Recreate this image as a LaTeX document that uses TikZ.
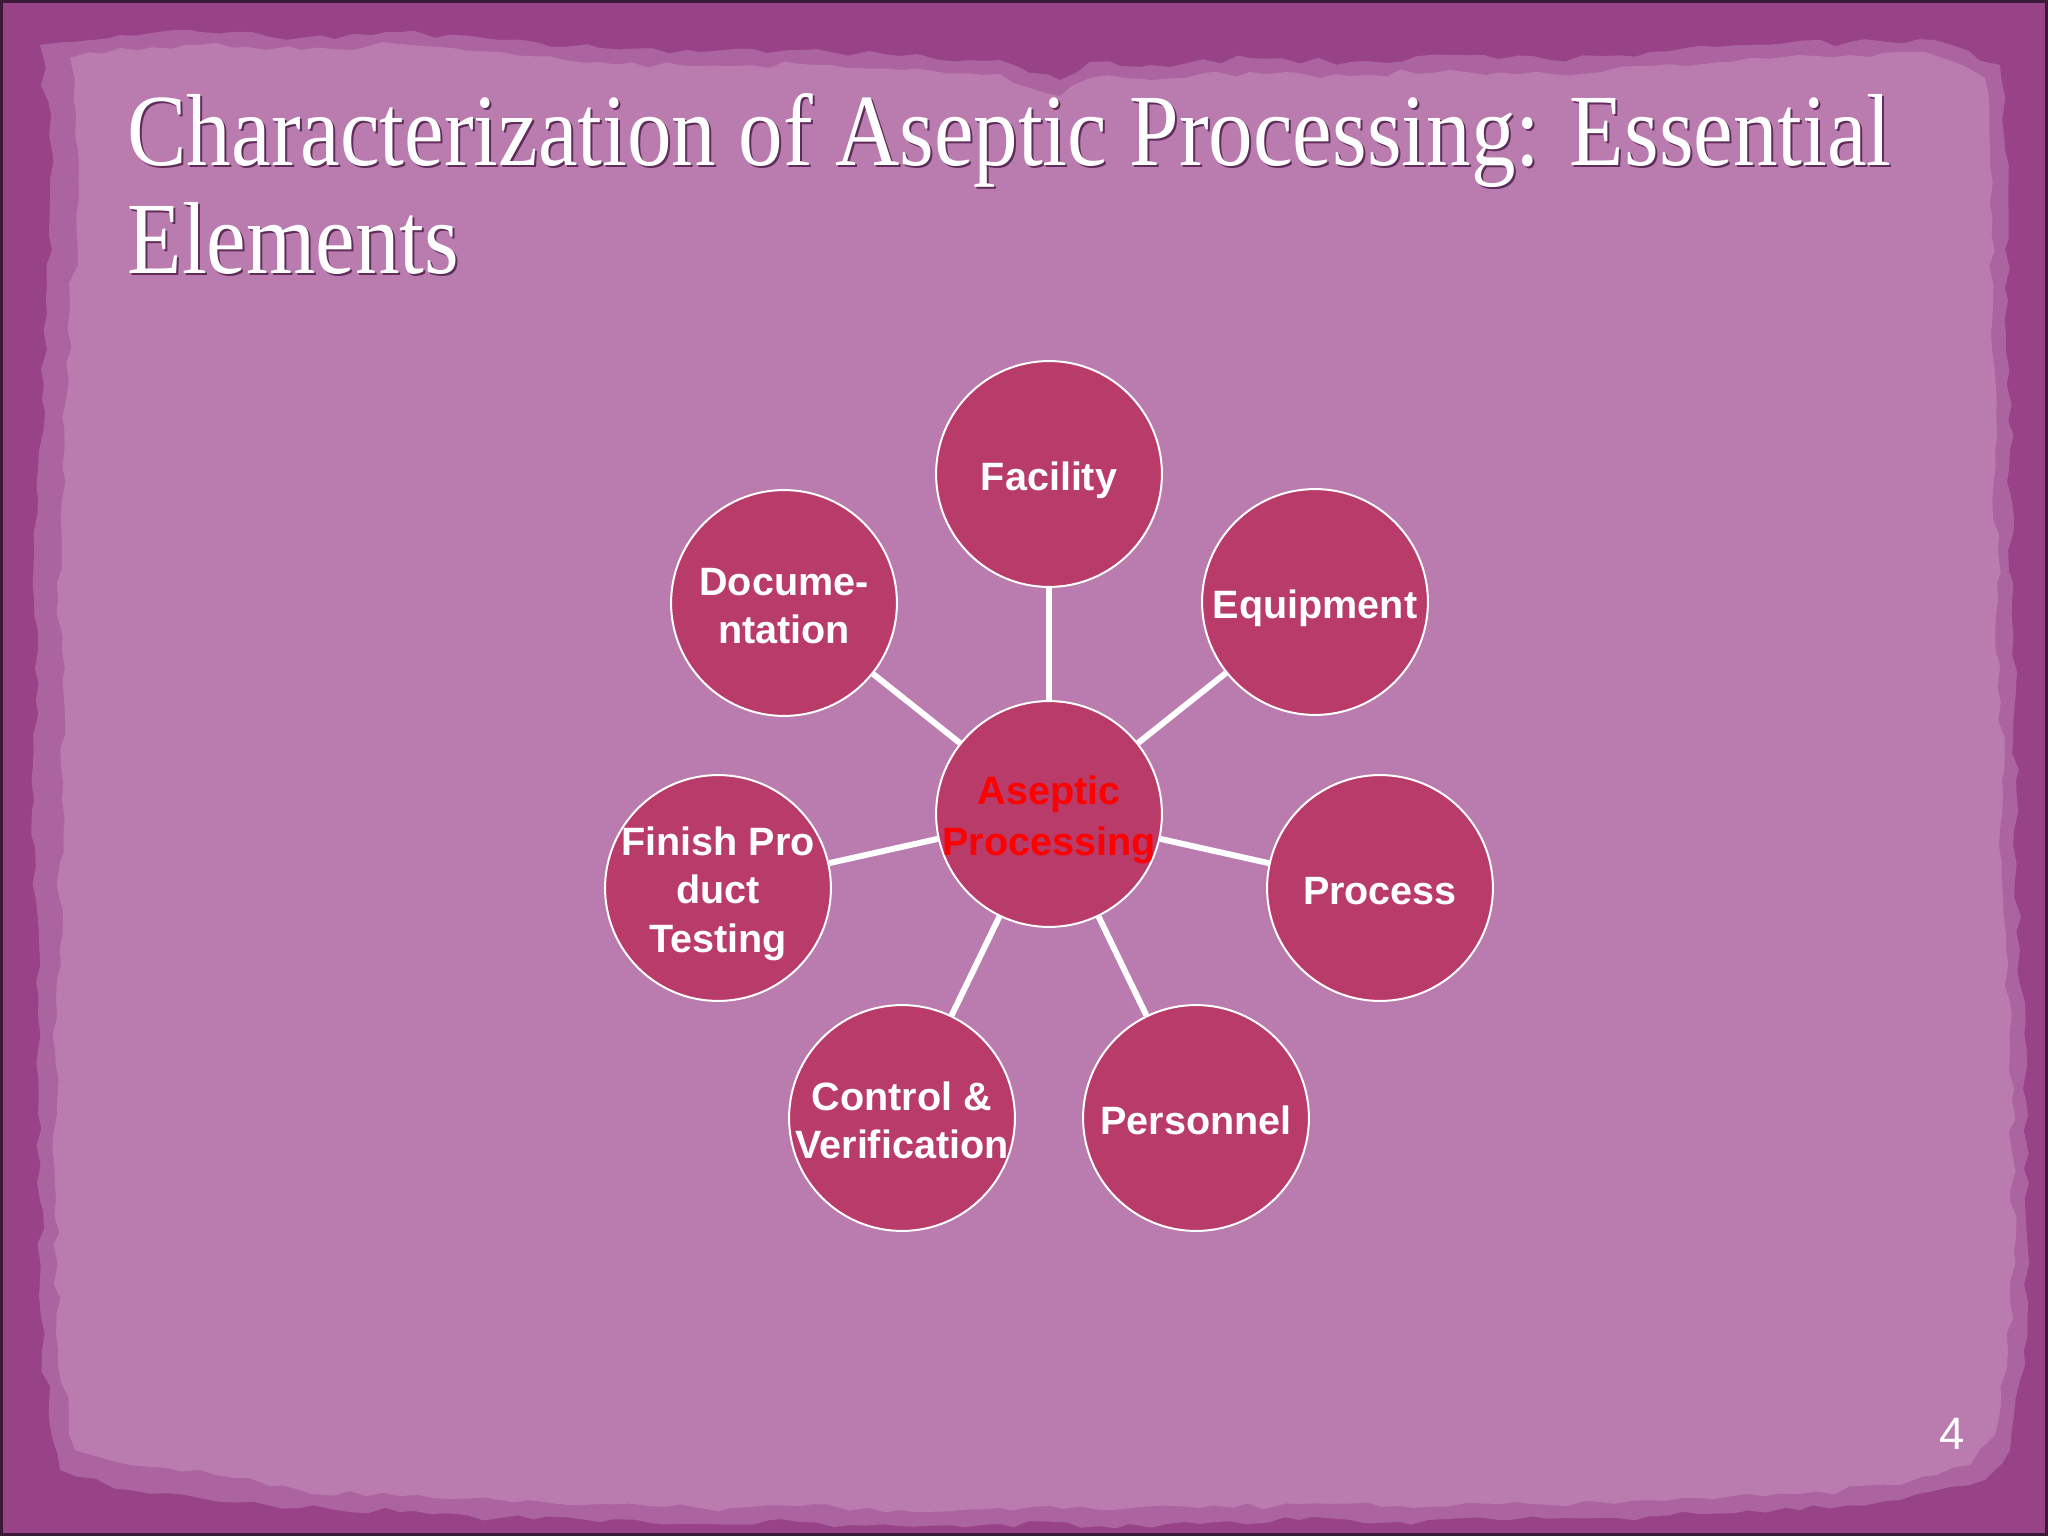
\documentclass[tikz,border=0pt]{standalone}
\usepackage{fontspec}
\setmainfont{Liberation Serif}
\newfontfamily\arialfam{Liberation Sans}
\usetikzlibrary{decorations.pathmorphing}
\definecolor{framedark}{RGB}{152,66,136}
\definecolor{papermid}{RGB}{172,100,160}
\definecolor{paperlight}{RGB}{186,123,175}
\definecolor{bubble}{RGB}{185,59,105}
\definecolor{edgeline}{RGB}{60,25,55}
\definecolor{titleshadow}{RGB}{95,45,90}
\newcommand\lstrut{\rule[-2.75pt]{0pt}{16.9pt}}
\tikzset{
  bubblenode/.style={circle, fill=bubble, draw=white, line width=0.7pt,
    minimum size=79.4pt, inner sep=-5pt, align=center, text=white,
    font=\arialfam\bfseries\fontsize{13.9pt}{16.9pt}\selectfont},
  hubnode/.style={bubblenode, text={rgb,255:red,255;green,0;blue,0}},
  spoke/.style={draw=white, line width=2.1pt},
  titletext/.style={anchor=base west, inner sep=0pt, text=white,
    font=\fontsize{36pt}{38pt}\selectfont},
  titleshade/.style={titletext, text=titleshadow},
  torn/.style={decorate, decoration={random steps, segment length=6pt, amplitude=1.3pt}}
}
\begin{document}
\begin{tikzpicture}[x=0.3515625pt, y=-0.3515625pt]
\pgfmathsetseed{11}
\useasboundingbox (0,0) rectangle (2048,1536);
% background frame
\fill[framedark] (0,0) rectangle (2048,1536);
% medium torn band
\fill[papermid, torn] (40,45) -- (120,35) -- (200,32) -- (300,38) -- (400,32) -- (500,40) -- (600,48) -- (700,52) -- (800,50) -- (900,56) -- (1000,60) -- (1060,80) -- (1090,62) -- (1150,65) -- (1250,58) -- (1350,62) -- (1450,55) -- (1550,60) -- (1650,52) -- (1750,45) -- (1850,42) -- (1935,40) -- (2000,65) -- (2005,150) -- (2008,300) -- (2010,450) -- (2012,600) -- (2016,780) -- (2014,830) -- (2020,950) -- (2026,1100) -- (2028,1250) -- (2024,1350) -- (2010,1450) -- (1985,1480) -- (1900,1500) -- (1800,1510) -- (1700,1514) -- (1600,1518) -- (1500,1520) -- (1400,1522) -- (1300,1520) -- (1200,1524) -- (1100,1526) -- (1000,1524) -- (900,1526) -- (800,1522) -- (700,1524) -- (600,1522) -- (500,1518) -- (400,1512) -- (300,1508) -- (200,1498) -- (130,1490) -- (60,1470) -- (42,1350) -- (40,1200) -- (38,1050) -- (36,900) -- (34,800) -- (36,700) -- (38,650) -- (34,600) -- (38,500) -- (42,400) -- (46,300) -- (52,250) -- (52,150) -- cycle;
% light paper
\fill[paperlight, torn] (70,58) -- (120,48) -- (200,45) -- (300,50) -- (400,44) -- (500,52) -- (600,62) -- (700,66) -- (800,64) -- (900,70) -- (1000,74) -- (1060,96) -- (1090,78) -- (1150,80) -- (1250,72) -- (1350,76) -- (1450,70) -- (1550,74) -- (1650,66) -- (1750,58) -- (1850,55) -- (1925,52) -- (1985,78) -- (1990,150) -- (1993,300) -- (1995,450) -- (1998,600) -- (2002,780) -- (2000,830) -- (2006,950) -- (2012,1100) -- (2014,1250) -- (2008,1350) -- (1995,1435) -- (1970,1465) -- (1900,1485) -- (1800,1494) -- (1700,1498) -- (1600,1502) -- (1500,1504) -- (1400,1506) -- (1300,1504) -- (1200,1508) -- (1100,1510) -- (1000,1508) -- (900,1510) -- (800,1506) -- (700,1508) -- (600,1504) -- (500,1500) -- (400,1496) -- (300,1490) -- (200,1470) -- (130,1465) -- (75,1450) -- (58,1350) -- (56,1200) -- (55,1050) -- (60,900) -- (62,800) -- (64,700) -- (62,650) -- (58,600) -- (62,500) -- (66,400) -- (70,300) -- (78,250) -- (78,150) -- cycle;
% thin outer edge
\draw[edgeline, line width=1pt] (1.5,1.5) rectangle (2046.5,1534.5);

% title
\node[titleshade] (t1s) at (129,168) {\scalebox{0.87}[1]{Characterization of Aseptic Processing: Essential}};
\node[titleshade] (t2s) at (129,276) {\scalebox{0.87}[1]{Elements}};
\node[titletext] (t1) at (127,166) {\scalebox{0.87}[1]{Characterization of Aseptic Processing: Essential}};
\node[titletext] (t2) at (127,274) {\scalebox{0.87}[1]{Elements}};

% diagram
\node[hubnode] (hub) at (1049,814) {\lstrut Aseptic\\\lstrut Processing};
\node[bubblenode] (fac) at (1049,474) {\lstrut Facility};
\node[bubblenode] (equ) at (1315,602) {\lstrut Equipment};
\node[bubblenode] (pro) at (1380,888) {\lstrut Process};
\node[bubblenode] (per) at (1196,1118) {\lstrut Personnel};
\node[bubblenode] (con) at (902,1118) {\lstrut Control \&\\\lstrut Verification};
\node[bubblenode] (fin) at (718,888) {\lstrut Finish Pro\\\lstrut duct\\\lstrut Testing};
\node[bubblenode] (doc) at (784,603) {\lstrut Docume-\\\lstrut ntation};

\foreach \n in {fac,equ,pro,per,con,fin,doc}
  \draw[spoke] (hub) -- (\n);

% slide number
\node[inner sep=0pt, text=white, font=\arialfam\fontsize{16pt}{18pt}\selectfont] (num) at (1952,1434) {4};
\end{tikzpicture}
\end{document}
